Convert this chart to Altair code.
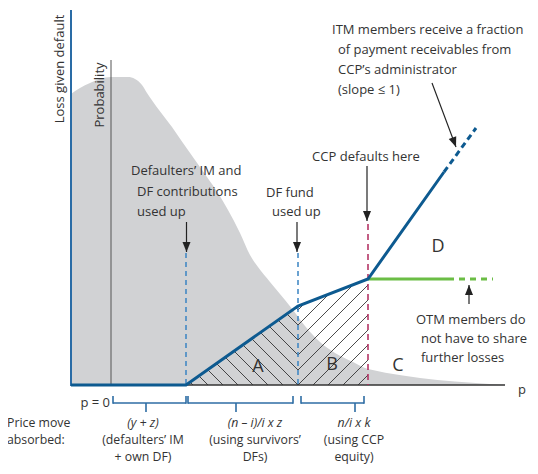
import altair as alt
import pandas as pd

# ---------------- data (diagram units: x = price move, y = depth from top) ----------------
BASE = 385            # loss = 0 / price axis level
LOSS_AXIS_X = 71      # loss-given-default axis
P0_X = 111            # p = 0 (probability axis)
AXIS_END_X = 505
THRESH_X = [186, 298, 368]   # defaulters' resources used up, DF fund used up, CCP defaults

# probability distribution of price move (grey area)
dist_x = [71, 80, 90, 100, 111, 128, 135, 142, 147, 159, 172, 183, 195, 207, 218, 228,
          240, 250, 258, 270, 285, 293, 305, 320, 335, 353, 368, 507]
dist_y = [94, 88, 83, 79, 77, 77, 79, 85, 93, 110, 127, 143, 160, 177, 193, 210,
          233, 255, 267, 282, 300, 310, 326, 342, 353, 362, 369, 385]

# loss given default (payoff line)
payoff_x = [71, 186, 298, 368, 444]
payoff_y = [385, 385, 306, 279, 172]
itm_ext_x = [444, 476]
itm_ext_y = [172, 128]

# OTM members' line
otm_x = [368, 448]
otm_ext_x = [448, 493]
otm_y = 279

# brackets below the axis: (left, right, centre tick)
brackets = [(113, 186, 146), (188, 293, 236), (301, 364, 355)]

HATCH_STEP = 15

# ---------------- styling ----------------
W, H = 522, 458
FONT = "Open Sans"
TEXT = "#333333"
FS = 13
FS_BOTTOM = 12.3
xs = alt.Scale(domain=[8, 530], nice=False, zero=False)
ys = alt.Scale(domain=[8, 466], reverse=True, nice=False, zero=False)


def X(f="x"):
    return alt.X(f, type="quantitative", scale=xs, axis=None)


def Y(f="y"):
    return alt.Y(f, type="quantitative", scale=ys, axis=None)


def segs(rows, color, width, dash=None, cap="butt"):
    df = pd.DataFrame(rows, columns=["x", "y", "x2", "y2"])
    kw = dict(color=color, strokeWidth=width, strokeCap=cap)
    if dash:
        kw["strokeDash"] = dash
    return alt.Chart(df).mark_rule(**kw).encode(x=X("x"), y=Y("y"), x2="x2", y2="y2")


def line(xv, yv, color, width, dash=None):
    df = pd.DataFrame({"x": xv, "y": yv, "o": list(range(len(xv)))})
    kw = dict(color=color, strokeWidth=width, strokeJoin="miter", strokeCap="butt")
    if dash:
        kw["strokeDash"] = dash
    return alt.Chart(df).mark_line(**kw).encode(x=X("x"), y=Y("y"), order="o:Q")


def texts(items, size=FS, align="left", italic=False, angle=None, color=TEXT):
    df = pd.DataFrame(items, columns=["x", "y", "t"])
    kw = dict(font=FONT, fontSize=size, align=align, baseline="middle", color=color)
    if italic:
        kw["fontStyle"] = "italic"
    if angle is not None:
        kw["angle"] = angle
    return alt.Chart(df).mark_text(**kw).encode(x=X(), y=Y(), text="t:N")


def clip_line(p0, d, poly):
    n = len(poly)
    cx = sum(p[0] for p in poly) / n
    cy = sum(p[1] for p in poly) / n
    t0, t1 = -1e9, 1e9
    for i in range(n):
        a, b = poly[i], poly[(i + 1) % n]
        nx, ny = -(b[1] - a[1]), b[0] - a[0]
        if nx * (cx - a[0]) + ny * (cy - a[1]) < 0:
            nx, ny = -nx, -ny
        num = nx * (p0[0] - a[0]) + ny * (p0[1] - a[1])
        den = nx * d[0] + ny * d[1]
        if abs(den) < 1e-12:
            if num < 0:
                return None
        else:
            t = -num / den
            if den > 0:
                t0 = max(t0, t)
            else:
                t1 = min(t1, t)
    if t1 - t0 < 1e-6:
        return None
    return (p0[0] + t0 * d[0], p0[1] + t0 * d[1], p0[0] + t1 * d[0], p0[1] + t1 * d[1])


# hatch regions A and B under the payoff line
polyA = [(THRESH_X[0], BASE), (THRESH_X[1], BASE), (THRESH_X[1], payoff_y[2])]
polyB = [(THRESH_X[1], BASE), (THRESH_X[2], BASE), (THRESH_X[2], payoff_y[3]), (THRESH_X[1], payoff_y[2])]
hatch = []
for k in range(-12, 12):
    x0 = THRESH_X[1] + HATCH_STEP * k
    s = clip_line((x0, BASE), (1, 1), polyA)
    if s:
        hatch.append(s)
    s = clip_line((x0, BASE), (1, -1), polyB)
    if s:
        hatch.append(s)

layers = []

# grey distribution
dist_df = pd.DataFrame({"x": dist_x, "y": dist_y, "b": [BASE] * len(dist_x)})
layers.append(alt.Chart(dist_df).mark_area(color="#d1d2d4", interpolate="monotone", opacity=1)
              .encode(x=X(), y=Y(), y2="b"))

# hatching
layers.append(segs(hatch, "#2b2b2b", 0.85))

# axes
layers.append(segs([(P0_X, 60, P0_X, BASE)], "#555555", 1))
layers.append(segs([(LOSS_AXIS_X, BASE, AXIS_END_X, BASE)], "#333333", 1.6))
layers.append(segs([(LOSS_AXIS_X, 10, LOSS_AXIS_X, BASE + 1)], "#2a6ca6", 2))

# threshold dashed lines
layers.append(segs([(THRESH_X[0], 253, THRESH_X[0], BASE), (THRESH_X[1], 253, THRESH_X[1], BASE)],
                   "#3a84c2", 1.5, dash=[5, 4]))
layers.append(segs([(THRESH_X[2], 224, THRESH_X[2], BASE)], "#b0285c", 1.5, dash=[6, 4]))

# OTM line
layers.append(line(otm_x, [otm_y] * 2, "#6bbd45", 3))
layers.append(line(otm_ext_x, [otm_y] * 2, "#6bbd45", 3, dash=[6, 5]))

# payoff line
layers.append(line(payoff_x, payoff_y, "#0d5a90", 3))
layers.append(line(itm_ext_x, itm_ext_y, "#0d5a90", 3, dash=[6, 4]))

# brackets
br = []
for l, r, c in brackets:
    br += [(l, 403, r, 403), (l, 396, l, 403.7), (r, 396, r, 403.7), (c, 403, c, 412)]
layers.append(segs(br, "#2e6da4", 1.6))

# arrows: (from x, from y, tip x, tip y, angle)
arrows = [(186.5, 222, 186.5, 252, 0), (297, 222, 297, 252, 0), (367, 166, 367, 221, 0),
          (432, 83, 456, 147, 339.4), (469, 304, 469, 285, 180)]
layers.append(segs([a[:4] for a in arrows], "#222222", 1.2))
head_df = pd.DataFrame({"x": [a[2] for a in arrows], "y": [a[3] for a in arrows],
                        "ang": [a[4] for a in arrows]})
layers.append(alt.Chart(head_df).mark_point(shape="M0,0L-0.4,-1L0.4,-1Z", filled=True, size=400,
                                            color="#222222", opacity=1, strokeWidth=0)
              .encode(x=X(), y=Y(), angle=alt.Angle("ang:Q", scale=None)))

# texts
layers.append(texts([
    (131, 171, "Defaulters’ IM and"), (137, 192, "DF contributions"), (137, 212, "used up"),
    (266, 193, "DF fund"), (272, 212, "used up"),
    (332, 30, "ITM members receive a fraction"), (338, 50, "of payment receivables from"),
    (338, 70, "CCP’s administrator"), (338, 90, "(slope ≤ 1)"),
    (416, 320, "OTM members do"), (421, 339, "not have to share"), (421, 358, "further losses"),
]))
layers.append(texts([(7, 423, "Price move"), (7, 440, "absorbed:")], size=FS_BOTTOM))
layers.append(texts([
    (143, 440, "(defaulters’ IM"), (143, 457, "+ own DF)"),
    (255, 440, "(using survivors’"), (255, 457, "DFs)"),
    (354, 440, "(using CCP"), (354, 457, "equity)"),
], size=FS_BOTTOM, align="center"))
layers.append(texts([(143, 423, "(y + z)"), (255, 423, "(n – i)/i x z"), (354, 423, "n/i x k")],
                    size=FS_BOTTOM, align="center", italic=True))
layers.append(texts([(366, 157, "CCP defaults here"), (522, 390, "p")], align="center"))
layers.append(texts([(110, 403, "p = 0")], align="right"))
layers.append(texts([(258, 367, "A"), (332, 365, "B"), (398, 366, "C"), (438, 247, "D")],
                    size=18, align="center"))
layers.append(texts([(60, 69, "Loss given default"), (100, 95, "Probability")],
                    align="center", angle=270))

chart = alt.layer(*layers).properties(
    width=W, height=H, padding=0, autosize=alt.AutoSizeParams(type="none")
).configure_view(stroke=None)

chart.save("out.html", embed_options={"renderer": "svg", "actions": False})
